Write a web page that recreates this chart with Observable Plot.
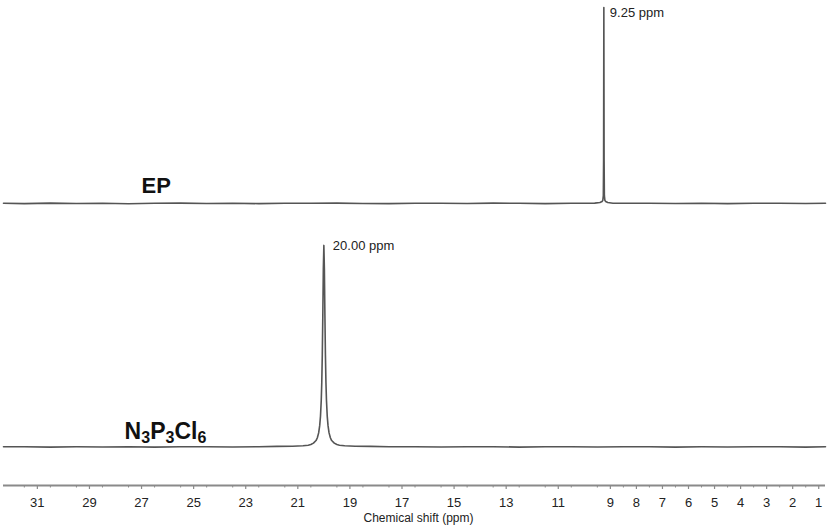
<!DOCTYPE html>
<html>
<head>
<meta charset="utf-8">
<script src="https://cdn.jsdelivr.net/npm/d3@7"></script>
<script src="https://cdn.jsdelivr.net/npm/@observablehq/plot@0.6"></script>
<style>
  html, body { margin: 0; padding: 0; background: #fff; }
  #chart svg { display: block; }
</style>
</head>
<body>
<div id="chart"></div>
<script>
// ---- Data ----
const ppmTicks = [31, 29, 27, 25, 23, 21, 19, 17, 15, 13, 11, 9, 8, 7, 6, 5, 4, 3, 2, 1];
const axisTitle = "Chemical shift (ppm)";

const spectrumNames = ["EP", "N3P3Cl6"];
const peakLabels = ["9.25 ppm", "20.00 ppm"];
const peakPpm = [9.25, 20.00];

// EP spectrum (relative intensity, %)
const epPpm = [32.3, 31.5, 30.5, 29.5, 28.5, 27.5, 26.5, 25.5, 24.5, 23.5, 22.5, 21.5, 20.5, 19.5, 18.5, 17.5,
  16.5, 15.5, 14.5, 13.5, 12.5, 11.5, 10.5, 10.0, 9.6, 9.40, 9.32, 9.29, 9.27, 9.26, 9.25, 9.24, 9.23, 9.21,
  9.18, 9.10, 8.9, 8.5, 7.5, 6.5, 5.5, 4.5, 3.5, 2.5, 1.5, 0.74];
const epIntensity = [0.15, -0.05, 0.2, 0, 0.15, -0.1, 0.1, 0.2, 0, 0.15, -0.05, 0.15, 0.1, 0.2, 0, -0.05,
  0.15, 0.1, 0, 0.2, 0.1, -0.05, 0.15, 0.1, 0.2, 0.5, 1.0, 1.6, 4, 22, 100, 22, 4, 1.6,
  1.0, 0.5, 0.15, 0.1, 0.15, 0, 0.15, -0.05, 0.1, 0.15, 0, 0.1];

// N3P3Cl6 spectrum (relative intensity, %)
const n3Ppm = [32.3, 31.5, 30.5, 29.5, 28.5, 27.5, 26.5, 25.5, 24.5, 23.5, 22.5, 21.8, 21.2, 20.8, 20.6,
  20.5, 20.4, 20.3, 20.25, 20.2, 20.16, 20.13, 20.10, 20.08, 20.06, 20.04, 20.02, 20.00,
  19.98, 19.96, 19.94, 19.92, 19.90, 19.87, 19.84, 19.80, 19.75, 19.70, 19.6, 19.5, 19.4, 19.2,
  18.8, 18.2, 17.5, 16.5, 15.5, 14.5, 13.5, 12.5, 11.5, 10.5, 9.5, 8.5, 7.5, 6.5, 5.5, 4.5, 3.5, 2.5, 1.5, 0.74];
const n3Intensity = [0.1, 0.15, -0.05, 0.1, 0, 0.15, -0.05, 0.1, 0.15, 0, 0.15, 0.3, 0.4, 0.6, 0.9,
  1.2, 1.9, 3.2, 4.6, 7.0, 10.6, 15.2, 23.2, 32, 45.7, 65.4, 88.3, 100,
  88.3, 65.4, 45.7, 32, 23.2, 15.2, 10.6, 7.0, 4.6, 3.2, 1.9, 1.2, 0.9, 0.6,
  0.4, 0.3, 0.1, 0.15, 0, 0.1, 0.15, -0.05, 0.1, 0.15, 0, 0.1, 0.15, -0.05, 0.1, 0, 0.15, 0.1, -0.05, 0.1];

// ---- Layout constants (stacking of the two traces) ----
const EP_BASE = 58.14, EP_SCALE = 0.404;
const N3_BASE = 7.94, N3_SCALE = 0.4156;

const ep = epPpm.map((p, i) => ({ppm: p, v: EP_BASE + epIntensity[i] * EP_SCALE}));
const n3 = n3Ppm.map((p, i) => ({ppm: p, v: N3_BASE + n3Intensity[i] * N3_SCALE}));

const font = "'Liberation Sans', Arial, Helvetica, sans-serif";
const traceColor = "#555555";

const chart = Plot.plot({
  width: 829,
  height: 528,
  marginLeft: 3,
  marginRight: 4,
  marginTop: 0,
  marginBottom: 43,
  style: {fontFamily: font, background: "#fff", color: "#222"},
  x: {domain: [32.3, 0.74], label: null},
  y: {domain: [0, 100], axis: null},
  marks: [
    Plot.ruleY([0], {stroke: "#8a8a8a", strokeWidth: 1.8}),
    Plot.axisX(d3.range(1, 32.01, 0.5).filter(d => d % 1 !== 0), {tickSize: 2.5, stroke: "#8a8a8a", text: null, label: null, strokeWidth: 1}),
    Plot.axisX({ticks: ppmTicks, tickSize: 4, tickPadding: 8, fontSize: 13, stroke: "#8a8a8a", fill: "#222", label: null, tickFormat: d => String(d), strokeWidth: 1.2}),
    Plot.text([axisTitle], {frameAnchor: "bottom", dx: 4, dy: 36, fontSize: 12, fill: "#222"}),
    Plot.line(ep, {x: "ppm", y: "v", stroke: traceColor, strokeWidth: 1.6}),
    Plot.line(n3, {x: "ppm", y: "v", stroke: traceColor, strokeWidth: 1.6}),
    Plot.text([peakLabels[0]], {x: peakPpm[0], y: EP_BASE + 100 * EP_SCALE, dx: 6, dy: 5, textAnchor: "start", fontSize: 13, fill: "#222"}),
    Plot.text([peakLabels[1]], {x: peakPpm[1], y: N3_BASE + 100 * N3_SCALE, dx: 9, dy: 0, textAnchor: "start", fontSize: 13, fill: "#222"}),
    Plot.text([spectrumNames[0]], {x: 27.0, y: 61.86, textAnchor: "start", fontSize: 22, fontWeight: "bold", fill: "#111"}),
    Plot.text([spectrumNames[1]], {x: 27.65, y: 11.13, textAnchor: "start", fontSize: 23, fontWeight: "bold", fill: "#111"})
  ]
});

// subscripts for N3P3Cl6
d3.select(chart).selectAll("text").each(function() {
  if (this.textContent === spectrumNames[1]) {
    const el = d3.select(this);
    el.text(null);
    const parts = [["N", 0], ["3", 1], ["P", 0], ["3", 1], ["Cl", 0], ["6", 1]];
    let prevSub = 0;
    for (const [s, sub] of parts) {
      const ts = el.append("tspan").text(s);
      if (sub) ts.attr("font-size", 16);
      const shift = (sub ? 4 : 0) - (prevSub ? 4 : 0);
      if (shift) ts.attr("dy", shift);
      prevSub = sub;
    }
  }
});

document.getElementById("chart").appendChild(chart);
</script>
</body>
</html>
